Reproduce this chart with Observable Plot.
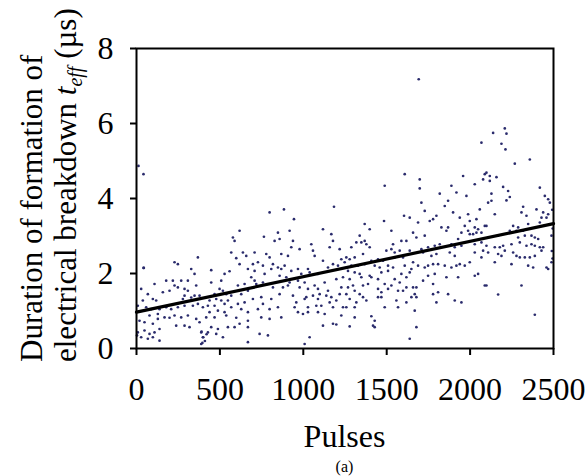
<!DOCTYPE html>
<html>
<head>
<meta charset="utf-8">
<script src="https://cdn.jsdelivr.net/npm/d3@7"></script>
<script src="https://cdn.jsdelivr.net/npm/@observablehq/plot@0.6"></script>
<style>
  html, body { margin: 0; padding: 0; background: #fff; }
  #chart svg { display: block; }
</style>
</head>
<body>
<div id="chart"></div>
<script>
// Tick labels
const xTicks = [0, 500, 1000, 1500, 2000, 2500];
const yTicks = [0, 2, 4, 6, 8];

// Linear trend line (pulses, t_eff)
const trendPulses = [0, 2500];
const trendTeff = [0.97, 3.33];

// Measured points: [pulse number, t_eff in µs]
const measurements = [
  [12,4.87],[42,4.65],[42,2.15],
  [228,2.30],[248,2.25],[368,2.43],[328,2.12],[44,2.15],[348,1.99],
  [28,1.59],[108,1.72],[178,1.81],[218,1.81],[268,1.81],[308,1.81],[358,1.68],
  [228,1.68],[248,1.63],[288,1.59],[308,1.54],[158,1.50],[198,1.54],[68,1.45],
  [38,1.28],[98,1.32],[118,1.28],[288,1.41],[278,1.32],[328,1.36],[348,1.41],[378,1.41],
  [8,1.14],[58,1.10],[88,1.05],[138,1.05],[178,1.10],[208,1.05],[248,1.10],[288,1.14],
  [338,1.14],[368,1.19],[398,1.10],
  [78,0.88],[128,0.92],[168,0.83],[198,0.82],[228,0.88],[268,0.83],[308,0.88],[358,0.79],
  [18,0.74],[48,0.70],[98,0.66],[128,0.79],[238,0.61],[288,0.61],[318,0.57],[378,0.70],
  [8,0.43],[48,0.48],[78,0.39],[108,0.43],[138,0.52],[388,0.43],[398,0.30],
  [3,0.35],[28,0.30],[68,0.26],[98,0.30],[138,0.21],[388,0.12],
  [390,0.45],[400,0.30],[410,0.20],[420,0.38],[395,0.15],
  [798,3.63],[618,3.14],[764,2.98],[578,2.96],[588,2.87],[828,2.87],
  [568,2.56],[638,2.56],[658,2.47],[708,2.56],[778,2.52],[798,2.43],[598,2.41],[618,2.25],[698,2.25],[728,2.30],[758,2.21],[818,2.25],[448,2.09],[558,2.06],[528,1.99],[668,2.12],[708,2.07],[768,1.99],[808,2.12],
  [508,1.81],[688,1.90],[708,1.81],[718,1.72],[448,1.76],[608,1.68],[758,1.76],[648,1.72],[818,1.63],
  [498,1.59],[518,1.54],[538,1.45],[568,1.41],[468,1.45],[628,1.45],[668,1.54],[698,1.32],[748,1.37],[808,1.32],
  [438,1.28],[478,1.32],[508,1.28],[548,1.28],[428,1.14],[468,1.14],[528,1.19],[568,1.10],[608,1.19],[648,1.23],[758,1.19],[798,1.05],
  [438,0.97],[488,1.01],[528,0.97],[628,1.05],[668,0.97],[728,1.05],
  [418,0.83],[468,0.83],[538,0.88],[598,0.82],[668,0.74],[748,0.83],[798,0.79],
  [448,0.57],[488,0.52],[548,0.57],[588,0.57],[618,0.66],[668,0.57],
  [428,0.43],[478,0.39],[518,0.30],[788,0.35],[738,0.39],[668,0.17],
  [884,3.71],[1184,3.78],[944,3.45],[848,3.09],[918,3.14],[1118,3.18],[1168,3.05],
  [938,2.87],[858,2.92],[928,2.70],[978,2.65],[1048,2.78],[1178,2.87],[1218,2.65],[1158,2.70],[1058,2.61],
  [868,2.52],[908,2.47],[1068,2.47],[1118,2.34],[1228,2.38],[1248,2.30],[1178,2.25],
  [848,2.16],[888,2.21],[868,2.12],[968,2.12],[1028,2.12],[1148,2.16],[1208,2.21],[928,2.07],
  [858,1.94],[898,1.90],[988,1.99],[1038,2.03],[1088,1.99],[918,1.76],[968,1.81],[1008,1.76],[1068,1.68],[1128,1.76],[1198,1.85],[1238,1.90],
  [878,1.63],[908,1.68],[978,1.63],[1028,1.59],[1088,1.59],[1148,1.54],[1228,1.63],
  [858,1.45],[938,1.41],[1018,1.37],[1058,1.41],[1098,1.45],[1138,1.41],[1168,1.37],[1218,1.45],
  [958,1.23],[1008,1.32],[1088,1.32],[1158,1.23],[1198,1.28],[1238,1.10],
  [848,1.10],[948,1.10],[1028,1.10],[1078,1.14],[1108,1.14],[1178,1.10],
  [868,0.83],[968,0.97],[998,0.92],[1028,0.97],[1088,0.97],[1128,0.92],[1228,0.88],
  [1118,0.61],[1178,0.66],[1198,0.64],[1038,0.30],[1008,0.12],
  [1608,4.65],[1488,4.34],[1604,3.54],[1638,3.49],[1484,3.40],[1368,3.32],[1398,3.18],[1528,3.14],[1658,3.09],
  [1338,3.01],[1318,2.83],[1348,2.83],[1368,2.87],[1378,2.78],[1588,2.87],[1618,2.87],[1538,2.78],[1398,2.70],[1288,2.70],
  [1358,2.52],[1498,2.61],[1528,2.65],[1548,2.56],[1578,2.61],[1638,2.61],[1308,2.43],[1258,2.43],[1278,2.38],[1408,2.34],[1448,2.38],[1478,2.34],[1548,2.43],[1598,2.43],[1658,2.30],
  [1288,2.21],[1328,2.21],[1368,2.25],[1428,2.21],[1458,2.16],[1508,2.21],[1538,2.16],[1608,2.21],[1648,2.12],
  [1268,2.07],[1308,2.03],[1338,1.99],[1398,1.94],[1468,2.03],[1508,2.07],[1588,1.99],[1638,2.03],
  [1278,1.85],[1348,1.90],[1408,1.90],[1448,1.85],[1548,1.85],[1618,1.90],
  [1268,1.63],[1298,1.68],[1358,1.68],[1388,1.72],[1488,1.72],[1528,1.68],[1578,1.76],[1618,1.63],[1658,1.63],
  [1258,1.45],[1308,1.54],[1338,1.45],[1448,1.59],[1468,1.50],[1508,1.59],[1568,1.54],[1598,1.54],[1648,1.37],
  [1278,1.32],[1318,1.23],[1358,1.37],[1378,1.28],[1448,1.37],[1468,1.37],[1558,1.28],[1618,1.23],[1678,1.37],
  [1258,1.10],[1308,1.10],[1488,1.10],[1568,1.10],
  [1308,0.83],[1408,0.86],[1428,0.74],[1418,0.61],[1428,0.57],[1278,0.59],[1638,0.26],
  [1692,7.18],
  [2068,5.49],[1698,4.51],[1698,4.27],[1958,4.60],[2088,4.65],[2078,4.51],[2028,4.38],[1888,4.34],[1918,4.16],[1818,4.13],[1978,4.07],[1868,3.94],[1708,3.89],[1848,3.80],[1728,3.67],[2058,3.71],[1898,3.63],
  [1988,3.58],[1938,3.49],[1778,3.45],[1798,3.54],[2038,3.45],[1998,3.40],[1758,3.40],[1688,3.36],[1968,3.27],[1828,3.23],[1868,3.23],[2028,3.23],[2088,3.27],[2048,3.18],
  [1858,3.14],[1988,3.14],[1948,3.09],[2068,3.09],[1728,3.01],[1678,2.96],[1928,2.92],[1998,3.05],[2018,3.05],[2038,3.09],
  [1818,2.78],[1888,2.78],[1908,2.70],[1948,2.74],[2028,2.78],[1708,2.65],[1748,2.70],[2068,2.83],[1788,2.74],
  [1718,2.56],[1768,2.47],[1798,2.52],[1878,2.56],[1908,2.47],[2028,2.56],[2078,2.61],[2098,2.74],
  [1688,2.21],[1728,2.16],[1748,2.21],[1778,2.25],[1808,2.25],[1848,2.21],[1888,2.16],[1918,2.21],[1938,2.25],[1968,2.21],[1998,2.30],[2068,2.43],
  [1748,1.94],[1718,1.81],[1788,1.99],[1858,1.90],[1928,1.90],[2028,1.94],[2048,1.99],[2088,1.68],
  [1678,1.63],[1778,1.72],[1668,1.45],[1778,1.45],[1808,1.50],[1868,1.45],[1908,1.28],[1948,1.23],[1798,1.23],
  [1668,1.01],[1678,0.57],
  [2138,5.75],[2208,5.87],[2218,5.73],[2188,5.46],[2212,5.31],[2268,4.93],[2358,5.04],
  [2098,4.69],[2118,4.60],[2158,4.57],[2118,4.47],[2198,4.31],[2228,4.20],[2418,4.29],[2128,4.13],[2238,4.04],[2218,3.95],[2108,3.89],[2128,3.94],
  [2448,4.07],[2468,3.98],[2478,3.89],[2318,3.78],[2398,3.71],[2308,3.63],[2438,3.63],[2468,3.58],[2148,3.58],[2338,3.54],[2428,3.49],[2458,3.49],
  [2098,3.27],[2258,3.27],[2288,3.23],[2348,3.32],[2418,3.36],[2318,3.14],[2238,3.14],[2278,3.14],
  [2108,2.96],[2168,3.01],[2288,2.96],[2328,3.01],[2368,3.01],[2388,2.96],[2408,2.92],[2488,3.01],
  [2148,2.70],[2178,2.70],[2198,2.74],[2208,2.61],[2248,2.78],[2298,2.83],[2338,2.74],[2368,2.78],[2388,2.74],[2418,2.70],[2438,2.70],
  [2108,2.56],[2168,2.52],[2188,2.47],[2258,2.56],[2278,2.47],[2298,2.43],[2328,2.43],[2358,2.43],[2388,2.47],[2428,2.61],
  [2148,2.30],[2248,2.25],[2348,2.21],[2378,2.16],[2458,2.16],[2488,2.30],[2468,2.12],
  [2098,1.68],[2308,1.68],[2168,1.44],[2388,0.90],
  [2492,3.70],[2495,3.20],[2490,2.60],[2494,2.40]
];

const points = measurements.map(([p, t]) => ({pulse: p, t}));
const trend = trendPulses.map((p, i) => ({pulse: p, t: trendTeff[i]}));

const FONT = "'Liberation Serif', 'Times New Roman', serif";

const chart = Plot.plot({
  width: 587,
  height: 476,
  marginLeft: 136,
  marginRight: 34,
  marginTop: 48,
  marginBottom: 128,
  style: {fontFamily: FONT, fontSize: "32px", color: "#000", background: "#fff"},
  x: {domain: [0, 2500]},
  y: {domain: [0, 8]},
  marks: [
    Plot.dot(points, {x: "pulse", y: "t", r: 1.35, fill: "#2a2b6c", stroke: null}),
    Plot.line(trend, {x: "pulse", y: "t", stroke: "#000", strokeWidth: 3.2}),
    Plot.frame({stroke: "#000", strokeWidth: 2}),
    Plot.axisX({ticks: xTicks, tickSize: 7, tickPadding: 22, strokeWidth: 2, label: null, fontSize: 32, tickFormat: d => String(d)}),
    Plot.axisY({ticks: yTicks, tickSize: 6, tickPadding: 17, strokeWidth: 2, label: null, fontSize: 32, tickFormat: d => String(d)})
  ]
});

document.getElementById("chart").appendChild(chart);

// Axis titles and caption as real text
const svg = d3.select(chart);
const g = svg.append("g").attr("font-family", FONT).attr("fill", "#000");

g.append("text")
  .attr("transform", "translate(42,362) rotate(-90)")
  .attr("font-size", 31)
  .attr("text-anchor", "start")
  .text("Duration of formation of");

const l2 = g.append("text")
  .attr("transform", "translate(76,362) rotate(-90)")
  .attr("font-size", 31)
  .attr("text-anchor", "start");
l2.append("tspan").text("electrical breakdown ");
l2.append("tspan").attr("font-style", "italic").text("t");
l2.append("tspan").attr("font-style", "italic").attr("font-size", 20).attr("dy", 6).text("eff");
l2.append("tspan").attr("dy", -6).text(" (µs)");

g.append("text")
  .attr("x", 344.5).attr("y", 447)
  .attr("font-size", 32)
  .attr("text-anchor", "middle")
  .text("Pulses");

g.append("text")
  .attr("x", 344.5).attr("y", 472)
  .attr("font-size", 16)
  .attr("text-anchor", "middle")
  .text("(a)");
</script>
</body>
</html>
